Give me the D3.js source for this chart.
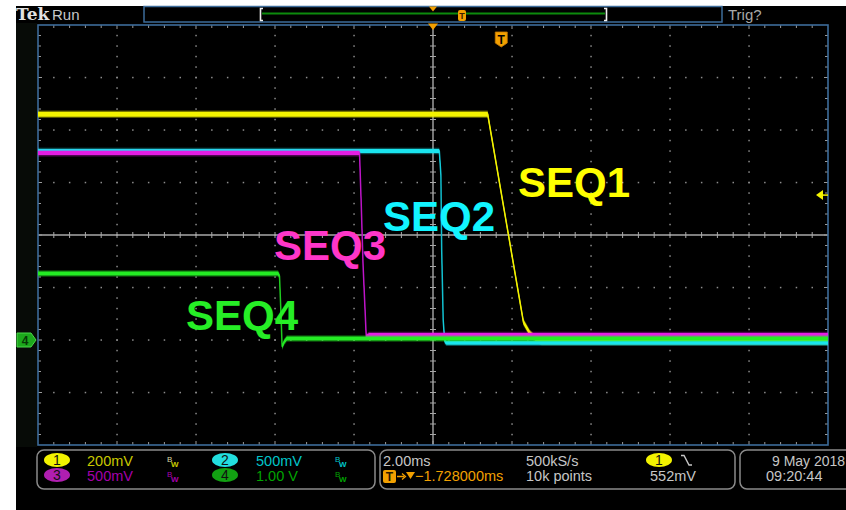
<!DOCTYPE html>
<html>
<head>
<meta charset="utf-8">
<script src="https://cdn.jsdelivr.net/npm/d3@7"></script>
<style>
  html, body { margin: 0; padding: 0; background: #fff; }
  svg { display: block; }
</style>
</head>
<body>
<svg id="scope" width="846" height="510"></svg>
<script>
// ---- acquisition settings ----
const timePerDiv = 2;            // ms / div
const hDivs = 10;
const vDivs = 8;
const channelIds   = ["1", "2", "3", "4"];
const voltsPerDiv  = [0.2, 0.5, 0.5, 1.0];
const scaleLabels  = ["200mV", "500mV", "500mV", "1.00 V"];
const groundDiv    = [-2, -2, -2, -2];   // channel offset, in divisions
const seqLabels    = ["SEQ1", "SEQ2", "SEQ3", "SEQ4"];

// ---- captured waveforms (time in ms from screen centre, volts) ----
const seq1Time = [-10, 1.385, 2.29, 2.45, 2.60, 2.75, 10];
const seq1Volt = [0.86, 0.86, 0.068, 0.026, 0.004, -0.006, -0.006];

const seq2Time = [-10, 0.16, 0.20, 0.22, 0.258, 0.296, 0.34, 10];
const seq2Volt = [1.80, 1.80, 1.57, 0.857, 0.19, -0.01, -0.025, -0.025];

const seq3Time = [-10, -1.86, -1.82, -1.77, -1.69, -1.62, 10];
const seq3Volt = [1.78, 1.78, 1.33, 0.71, 0.03, 0.048, 0.048];

const seq4Time = [-10, -3.924, -3.886, -3.85, -3.82, -3.77, -3.70, 10];
const seq4Volt = [1.267, 1.267, 1.22, 0.53, -0.13, -0.04, 0.03, 0.03];

// ---- trigger ----
const triggerSource = 0;         // channel index
const triggerLevel = 0.552;      // V
const triggerTime = 1.728;       // ms from screen centre
const horizLabel = "\u22121.728000ms";
const sampleRate = "500kS/s";
const recordLength = "10k points";
const trigLabel = "552mV";
const dateLabel = "9 May 2018";
const timeLabel = "09:20:44";

// ---- drawing ----
const svg = d3.select("#scope");
const W = 846, H = 510;

const traceColors = ["#f4f400", "#1ae4ee", "#e41ee4", "#24ec24"];
const edgeColors  = ["#e6e600", "#12bccc", "#b414c0", "#20c420"];
const dimColors   = ["#c8c800", "#00c4c8", "#a400aa", "#00a400"];
const badgeColors = ["#f2f200", "#22dede", "#b01eb0", "#12a012"];
const seqColors   = ["#ffff00", "#12f4ff", "#ff36c8", "#26ee26"];

svg.append("rect").attr("width", W).attr("height", H).attr("fill", "#fff");
svg.append("rect").attr("x", 16).attr("y", 6).attr("width", W - 16).attr("height", H - 6).attr("fill", "#000");
svg.append("rect").attr("x", 16).attr("y", 23).attr("width", 21).attr("height", 424).attr("fill", "#070b07");

const x = d3.scaleLinear().domain([-hDivs / 2 * timePerDiv, hDivs / 2 * timePerDiv]).range([38, 828]);
const y = d3.scaleLinear().domain([-vDivs / 2, vDivs / 2]).range([445, 25]);
const pxDivX = (x.range()[1] - x.range()[0]) / hDivs;
const pxDivY = (y.range()[0] - y.range()[1]) / vDivs;

// ---- graticule ----
const grid = svg.append("g");
grid.append("rect").attr("x", x.range()[0]).attr("y", y.range()[1])
  .attr("width", x.range()[1] - x.range()[0]).attr("height", y.range()[0] - y.range()[1])
  .attr("fill", "#000");

const dotsX = [], dotsY = [];
for (let i = 1; i < hDivs; i++) {
  if (i === hDivs / 2) continue;
  for (let k = 1; k < vDivs * 5; k++) dotsX.push([x.range()[0] + i * pxDivX, y.range()[1] + k * pxDivY / 5]);
}
for (let j = 1; j < vDivs; j++) {
  if (j === vDivs / 2) continue;
  for (let k = 1; k < hDivs * 5; k++) dotsY.push([x.range()[0] + k * pxDivX / 5, y.range()[1] + j * pxDivY]);
}
grid.selectAll(".dot").data(dotsX.concat(dotsY)).join("rect")
  .attr("x", d => d[0] - 0.7).attr("y", d => d[1] - 0.7)
  .attr("width", 1.5).attr("height", 1.5).attr("fill", "#8c8c8c");

// centre cross with minor ticks
const cx0 = x(0), cy0 = y(0);
grid.append("line").attr("x1", x.range()[0]).attr("x2", x.range()[1]).attr("y1", cy0).attr("y2", cy0)
  .attr("stroke", "#a8a8a8").attr("stroke-width", 1.6);
grid.append("line").attr("y1", y.range()[1]).attr("y2", y.range()[0]).attr("x1", cx0).attr("x2", cx0)
  .attr("stroke", "#a8a8a8").attr("stroke-width", 1.4);
for (let k = 1; k < hDivs * 5; k++) {
  const px = x.range()[0] + k * pxDivX / 5;
  grid.append("line").attr("x1", px).attr("x2", px).attr("y1", cy0 - 3).attr("y2", cy0 + 3)
    .attr("stroke", "#a8a8a8").attr("stroke-width", 1);
}
for (let k = 1; k < vDivs * 5; k++) {
  const py = y.range()[1] + k * pxDivY / 5;
  grid.append("line").attr("y1", py).attr("y2", py).attr("x1", cx0 - 3).attr("x2", cx0 + 3)
    .attr("stroke", "#a8a8a8").attr("stroke-width", 1);
}

// edge ticks
for (let k = 1; k < hDivs * 5; k++) {
  const px = x.range()[0] + k * pxDivX / 5;
  const len = (k % 5 === 0) ? 4 : 3;
  grid.append("line").attr("x1", px).attr("x2", px).attr("y1", y.range()[1]).attr("y2", y.range()[1] + len)
    .attr("stroke", "#9a9a9a").attr("stroke-width", 1);
  grid.append("line").attr("x1", px).attr("x2", px).attr("y1", y.range()[0]).attr("y2", y.range()[0] - len)
    .attr("stroke", "#9a9a9a").attr("stroke-width", 1);
}
for (let k = 1; k < vDivs * 5; k++) {
  const py = y.range()[1] + k * pxDivY / 5;
  const len = (k % 5 === 0) ? 4 : 3;
  grid.append("line").attr("y1", py).attr("y2", py).attr("x1", x.range()[0]).attr("x2", x.range()[0] + len)
    .attr("stroke", "#9a9a9a").attr("stroke-width", 1);
  grid.append("line").attr("y1", py).attr("y2", py).attr("x1", x.range()[1]).attr("x2", x.range()[1] - len)
    .attr("stroke", "#9a9a9a").attr("stroke-width", 1);
}
grid.append("rect").attr("x", x.range()[0]).attr("y", y.range()[1])
  .attr("width", x.range()[1] - x.range()[0]).attr("height", y.range()[0] - y.range()[1])
  .attr("fill", "none").attr("stroke", "#3d6c9a").attr("stroke-width", 1.6);

// ---- waveforms ----
svg.append("clipPath").attr("id", "plotClip").append("rect")
  .attr("x", x.range()[0]).attr("y", y.range()[1])
  .attr("width", x.range()[1] - x.range()[0]).attr("height", y.range()[0] - y.range()[1]);

const traces = [
  { ch: 0, t: seq1Time, v: seq1Volt, hw: 2.4 },
  { ch: 1, t: seq2Time, v: seq2Volt, hw: 2.0 },
  { ch: 2, t: seq3Time, v: seq3Volt, hw: 2.0 },
  { ch: 3, t: seq4Time, v: seq4Volt, hw: 2.0 }
];
const toDiv = (ch, volts) => volts / voltsPerDiv[ch] + groundDiv[ch];

const wave = svg.append("g").attr("clip-path", "url(#plotClip)");
traces.forEach(tr => {
  const pts = tr.t.map((t, i) => [t, toDiv(tr.ch, tr.v[i])]);
  const col = traceColors[tr.ch];
  const halo = d3.area().x(d => x(d[0])).y0(d => y(d[1]) - tr.hw - 1.3).y1(d => y(d[1]) + tr.hw + 1.3);
  const band = d3.area().x(d => x(d[0])).y0(d => y(d[1]) - tr.hw).y1(d => y(d[1]) + tr.hw);
  const line = d3.line().x(d => x(d[0])).y(d => y(d[1]));
  wave.append("path").attr("d", line(pts)).attr("fill", "none").attr("stroke", edgeColors[tr.ch]).attr("stroke-width", 1.5);
  wave.append("path").attr("d", halo(pts)).attr("fill", col).attr("opacity", 0.35);
  wave.append("path").attr("d", band(pts)).attr("fill", col);
});

// ---- sequence labels ----
const labelPos = [[520, 197], [385, 231], [276, 260], [188, 330]];
seqLabels.forEach((s, i) => {
  svg.append("text").attr("x", labelPos[i][0] - 2).attr("y", labelPos[i][1])
    .attr("font-family", "Liberation Sans, Arial, sans-serif").attr("font-weight", "bold")
    .attr("font-size", 42).attr("fill", seqColors[i]).text(s);
});

// ---- markers on the graticule ----
// channel 4 ground reference
const gy = y(groundDiv[3]);
svg.append("path")
  .attr("d", `M17,${gy - 7} L31,${gy - 7} L36,${gy} L31,${gy + 7} L17,${gy + 7} Z`)
  .attr("fill", "#1ca81c").attr("stroke", "#48d848").attr("stroke-width", 1);
svg.append("text").attr("x", 25).attr("y", gy + 4.5).attr("text-anchor", "middle")
  .attr("font-family", "Liberation Sans, Arial, sans-serif").attr("font-weight", "bold")
  .attr("font-size", 12).attr("fill", "#063806").text(channelIds[3]);

// trigger level arrow (right edge)
const ty = y(toDiv(triggerSource, triggerLevel));
svg.append("path").attr("d", `M816,${ty} L823,${ty - 5} L823,${ty + 5} Z`).attr("fill", traceColors[0]);
svg.append("line").attr("x1", 822).attr("x2", 828).attr("y1", ty).attr("y2", ty)
  .attr("stroke", traceColors[0]).attr("stroke-width", 1.5);

// expansion point and trigger position
const orange = "#f2a000";
svg.append("path").attr("d", `M${cx0 - 5},23.5 L${cx0 + 5},23.5 L${cx0},30 Z`).attr("fill", orange);
const tx = x(triggerTime);
svg.append("path")
  .attr("d", `M${tx - 6},32 L${tx + 6},32 L${tx + 6},43 L${tx},47 L${tx - 6},43 Z`)
  .attr("fill", orange).attr("stroke", "#c87800").attr("stroke-width", 0.8);
svg.append("text").attr("x", tx).attr("y", 43.5).attr("text-anchor", "middle")
  .attr("font-family", "Liberation Sans, Arial, sans-serif").attr("font-weight", "bold")
  .attr("font-size", 12).attr("fill", "#000").text("T");

// ---- top bar ----
const uiFont = "Liberation Sans, Arial, sans-serif";
svg.append("text").attr("x", 16).attr("y", 20).attr("font-family", "DejaVu Serif, serif")
  .attr("font-weight", "bold").attr("font-size", 17).attr("fill", "#e2e2e2").text("Tek");
svg.append("text").attr("x", 52).attr("y", 20).attr("font-family", uiFont)
  .attr("font-size", 15).attr("fill", "#c8c8c8").text("Run");
svg.append("rect").attr("x", 144).attr("y", 6.5).attr("width", 578).attr("height", 15.5)
  .attr("fill", "#000").attr("stroke", "#3d6c9a").attr("stroke-width", 1.5);
svg.append("rect").attr("x", 262).attr("y", 12.5).attr("width", 343).attr("height", 2).attr("fill", "#0c8a0c");
svg.append("path").attr("d", "M263,8.5 L260.5,8.5 L260.5,20.5 L263,20.5").attr("fill", "none")
  .attr("stroke", "#f0f0f0").attr("stroke-width", 1.6);
svg.append("path").attr("d", "M604,8.5 L606.5,8.5 L606.5,20.5 L604,20.5").attr("fill", "none")
  .attr("stroke", "#f0f0f0").attr("stroke-width", 1.6);
svg.append("path").attr("d", `M${cx0 - 4},6.5 L${cx0 + 4},6.5 L${cx0},11.5 Z`).attr("fill", orange);
svg.append("rect").attr("x", 458).attr("y", 10).attr("width", 8).attr("height", 11).attr("rx", 2)
  .attr("fill", orange);
svg.append("text").attr("x", 462).attr("y", 19).attr("text-anchor", "middle").attr("font-family", uiFont)
  .attr("font-size", 9).attr("font-weight", "bold").attr("fill", "#3a2000").text("T");
svg.append("text").attr("x", 728).attr("y", 20).attr("font-family", uiFont)
  .attr("font-size", 15).attr("fill", "#a8a8a8").text("Trig?");

// ---- status panels ----
const boxes = [[37, 450, 338, 39], [380, 450, 355, 39], [740, 450, 120, 39]];
boxes.forEach(b => {
  svg.append("rect").attr("x", b[0]).attr("y", b[1]).attr("width", b[2]).attr("height", b[3])
    .attr("rx", 7).attr("fill", "#000").attr("stroke", "#8a8a8a").attr("stroke-width", 1.5);
});
const row1 = 466, row2 = 481;
const badgeX = [57, 225, 57, 225], badgeY = [460, 460, 475, 475];
const textX = [87, 256, 87, 256], rowY = [row1, row1, row2, row2];
const bwX = [167, 335, 167, 335];
channelIds.forEach((id, i) => {
  svg.append("ellipse").attr("cx", badgeX[i]).attr("cy", badgeY[i]).attr("rx", 13).attr("ry", 7)
    .attr("fill", badgeColors[i]);
  svg.append("text").attr("x", badgeX[i]).attr("y", badgeY[i] + 5).attr("text-anchor", "middle")
    .attr("font-family", uiFont).attr("font-size", 14).attr("fill", "#111").text(id);
  svg.append("text").attr("x", textX[i]).attr("y", rowY[i]).attr("font-family", uiFont)
    .attr("font-size", 14.5).attr("fill", dimColors[i]).text(scaleLabels[i]);
  svg.append("text").attr("x", bwX[i]).attr("y", rowY[i] - 4).attr("font-family", uiFont)
    .attr("font-size", 8).attr("fill", i === 0 ? "#d8d8a0" : dimColors[i]).text("B");
  svg.append("text").attr("x", bwX[i] + 4).attr("y", rowY[i] + 1).attr("font-family", uiFont)
    .attr("font-size", 8).attr("font-weight", "bold").attr("fill", dimColors[i]).text("W");
});

const gray = "#c6c6c6";
svg.append("text").attr("x", 383).attr("y", row1).attr("font-family", uiFont).attr("font-size", 14.5)
  .attr("fill", gray).text(d3.format(".2f")(timePerDiv) + "ms");
svg.append("text").attr("x", 526).attr("y", row1).attr("font-family", uiFont).attr("font-size", 14.5)
  .attr("fill", gray).text(sampleRate);
svg.append("text").attr("x", 526).attr("y", row2).attr("font-family", uiFont).attr("font-size", 14.5)
  .attr("fill", gray).text(recordLength);
svg.append("ellipse").attr("cx", 659).attr("cy", 460).attr("rx", 13).attr("ry", 7).attr("fill", badgeColors[0]);
svg.append("text").attr("x", 659).attr("y", 465).attr("text-anchor", "middle").attr("font-family", uiFont)
  .attr("font-size", 14).attr("fill", "#111").text(channelIds[triggerSource]);
svg.append("path").attr("d", "M681,455.5 L684,455.5 L689,465 L692,465").attr("fill", "none")
  .attr("stroke", gray).attr("stroke-width", 1.4);
svg.append("text").attr("x", 650).attr("y", row2).attr("font-family", uiFont).attr("font-size", 14.5)
  .attr("fill", gray).text(trigLabel);

// horizontal position readout
svg.append("rect").attr("x", 383).attr("y", 470).attr("width", 13).attr("height", 13).attr("rx", 2).attr("fill", orange);
svg.append("text").attr("x", 389.5).attr("y", 481).attr("text-anchor", "middle").attr("font-family", uiFont)
  .attr("font-size", 12).attr("font-weight", "bold").attr("fill", "#2a1800").text("T");
svg.append("line").attr("x1", 397).attr("x2", 404).attr("y1", 476.5).attr("y2", 476.5)
  .attr("stroke", orange).attr("stroke-width", 1.5);
svg.append("path").attr("d", "M402,473.5 L405.5,476.5 L402,479.5").attr("fill", "none").attr("stroke", orange).attr("stroke-width", 1.3);
svg.append("path").attr("d", "M406,472 L415,472 L410.5,479 Z").attr("fill", orange);
svg.append("text").attr("x", 415).attr("y", row2).attr("font-family", uiFont).attr("font-size", 14.5)
  .attr("fill", orange).text(horizLabel);

// date / time
svg.append("text").attr("x", 772).attr("y", row1).attr("font-family", uiFont).attr("font-size", 14)
  .attr("fill", gray).text(dateLabel);
svg.append("text").attr("x", 766).attr("y", row2).attr("font-family", uiFont).attr("font-size", 14.5)
  .attr("fill", gray).text(timeLabel);
</script>
</body>
</html>
